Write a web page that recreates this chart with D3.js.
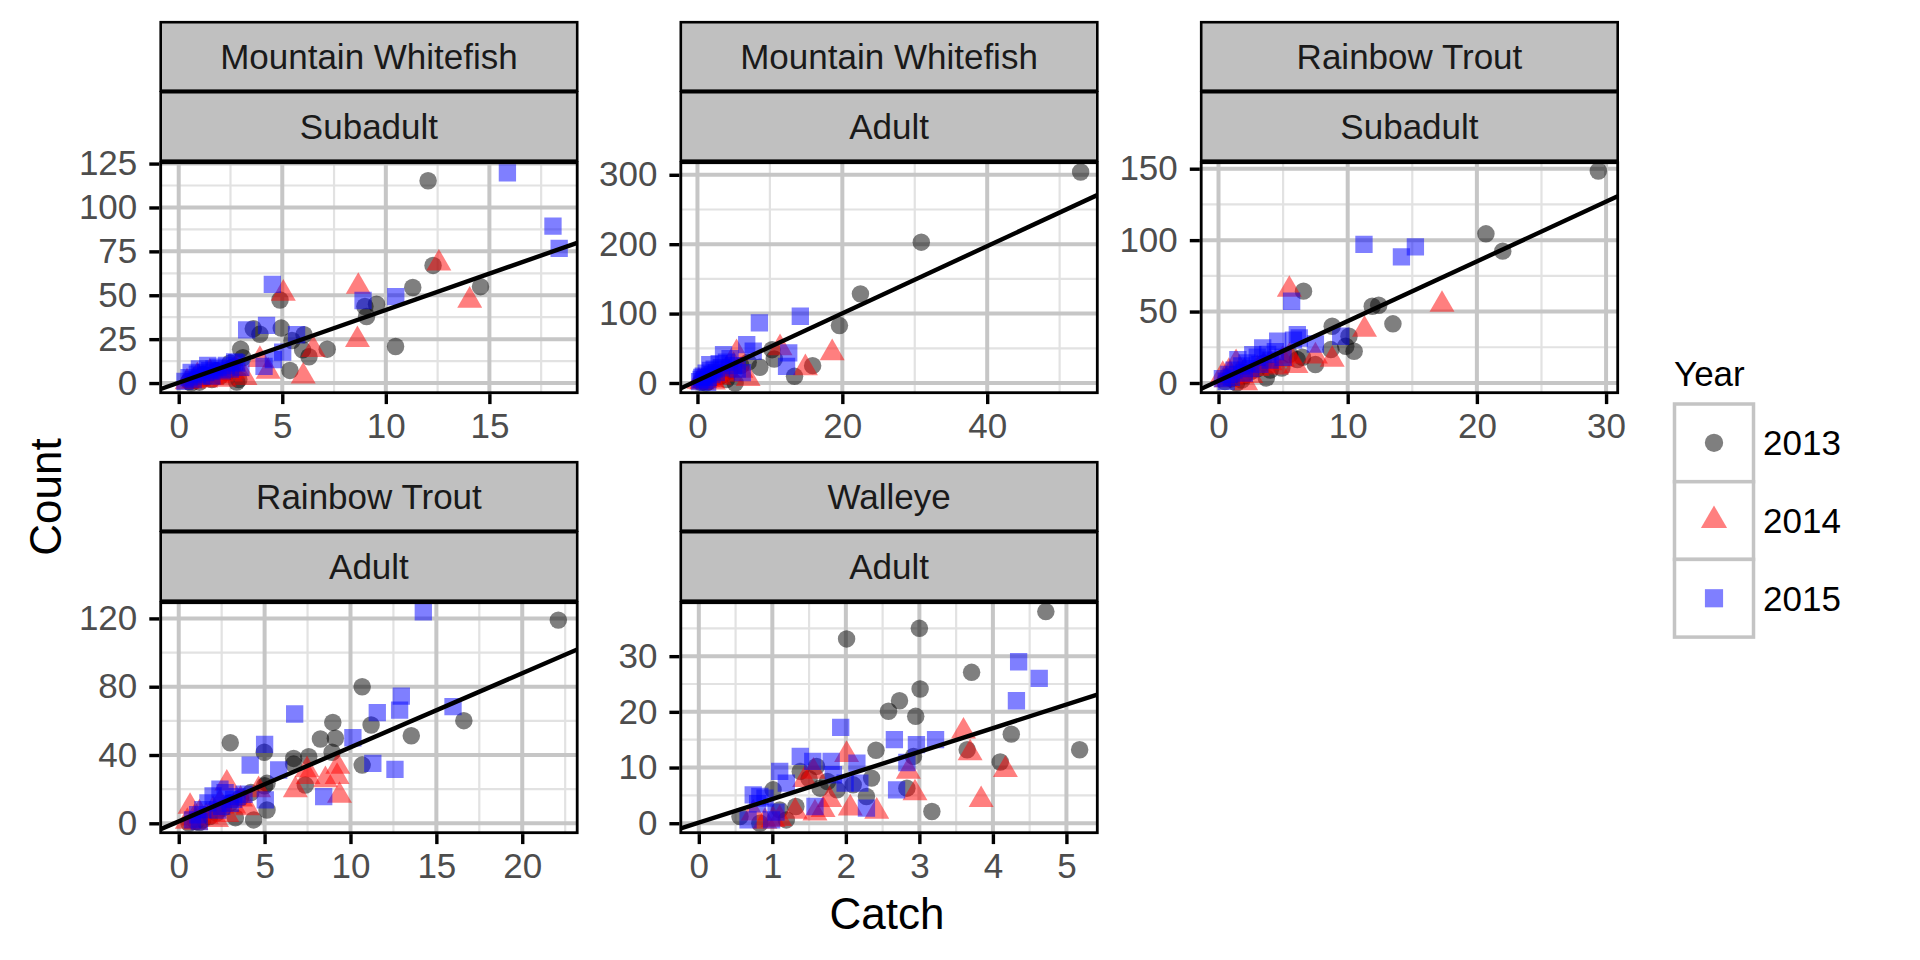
<!DOCTYPE html>
<html><head><meta charset="utf-8">
<script src="https://cdn.jsdelivr.net/npm/d3@7"></script>
<style>body{margin:0;background:#fff}svg{display:block}text{font-family:"Liberation Sans",Arial,Helvetica,sans-serif}</style>
</head><body><svg id="c" width="1920" height="960"></svg>
<script>
// ---------- data: [Catch, Count] ----------
const mwSub2013=[[12.04,115.2],[12.28,67],[11.3,54.4],[14.57,54.9],[9.55,44.9],[9.07,37.9],[8.99,43.6],[10.47,20.8],[4.89,47.3],[4.95,31.3],[3.6,30.9],[3.92,27.8],[6.05,27.5],[5.47,24.2],[5.98,18.9],[6.29,15],[7.17,19.3],[2.99,19.3],[3.1,14.4],[5.37,7.2],[2.48,11.4],[2.8,0.6],[0.5,1],[0.8,2],[1.0,0.5],[1.3,3],[1.6,2],[2.0,4],[2.3,6],[2.6,9],[1.8,7],[0.6,0],[1.2,5],[2.9,2]];
const mwSub2014=[[12.56,68.2],[8.67,54.9],[5.05,51],[14.05,47],[8.63,24.6],[6.5,19],[6.01,3.8],[3.92,13.3],[4.32,6.6],[2.64,6.6],[0.4,0.5],[0.7,1],[1.0,2],[1.3,1.5],[1.6,3],[1.9,4],[2.2,2],[2.5,5],[0.9,4],[1.5,6],[2.8,8],[3.2,3]];
const mwSub2015=[[15.87,119.7],[18.07,89.4],[18.37,76.7],[4.52,56.2],[8.9,47],[10.48,49.2],[3.28,30.3],[4.24,32.8],[5.69,27.5],[5.02,17.6],[4.57,13.3],[4.12,9.5],[2.8,11.4],[0.3,1],[0.5,3],[0.7,2],[0.9,5],[1.1,4],[1.3,6],[1.5,7],[1.7,8],[1.9,9],[2.1,7],[2.3,10],[2.5,8],[0.6,6],[1.0,8],[1.4,10],[2.7,12],[3.0,9],[1.6,4]];

const mwAd2013=[[52.9,304],[30.9,202.9],[22.5,128.4],[19.6,82.7],[15.9,25],[13.4,9.6],[10.6,34.6],[10.3,48],[8.6,22.6],[5.2,0],[3.1,9.6],[0.5,1],[1,3],[1.5,2],[2,6],[2.5,8],[3.5,12],[4.5,18],[6,25],[7,30],[1.2,0],[4,5]];
const mwAd2014=[[18.6,43.3],[14.9,21.6],[11.4,50.5],[5.4,43.3],[0.2,2],[0.6,1],[1.0,3],[1.5,5],[2,4],[2.5,10],[3,8],[3.5,15],[4,20],[4.5,12],[5,25],[6,18],[7,6],[2.2,1]];
const mwAd2015=[[8.55,86.5],[14.2,96.2],[12.6,43.3],[12.3,24],[6.8,55.3],[3.6,40.9],[1.7,26.4],[7.7,45.7],[0.3,2],[0.5,5],[0.8,10],[1.0,4],[1.2,14],[1.5,8],[1.8,18],[2.0,12],[2.3,20],[2.6,15],[3.0,28],[3.3,22],[4.0,30],[4.5,35],[5.0,25],[5.5,20],[6.2,15],[0.6,8],[1.4,1]];

const rtSub2013=[[29.4,148.4],[20.7,104.4],[22,92.3],[6.58,64.3],[11.9,53.7],[12.4,54.4],[13.5,41.4],[8.8,39.7],[10.1,32.7],[10.5,22.2],[9.85,25.7],[8.7,23.4],[7.5,12.9],[4.9,10.5],[6.1,16.4],[3.7,3.5],[1.4,0],[0.5,1],[1,3],[2,5],[2.5,8],[3,10],[3.5,14],[4,9],[5.5,20],[6.5,18],[1.8,2]];
const rtSub2014=[[5.48,65.4],[17.3,54.9],[11.3,37.4],[8.8,16.4],[7.5,18.7],[5.5,18.7],[4.96,16.4],[1.36,14],[2.1,0],[0.33,5.8],[0.6,2],[1,4],[1.5,6],[2,8],[2.5,5],[3,10],[3.5,12],[4,14],[4.5,11],[6,12],[0.8,8]];
const rtSub2015=[[11.26,97],[14.16,88.3],[15.24,95.3],[5.66,57.2],[6.1,33.9],[6.25,31.5],[7.5,27.3],[9.46,32.7],[4.58,29.2],[3.42,24.5],[2.65,19.9],[1.5,16.4],[0.6,1.2],[0.3,3],[0.8,6],[1.2,9],[1.8,12],[2.2,14],[2.5,10],[3,18],[3.2,13],[3.8,20],[4,16],[4.4,22],[5,18],[2,7],[1,4],[5.8,30]];

const rtAd2013=[[10.68,80],[8.97,59.1],[9.12,49.8],[8.25,49.4],[8.93,41.6],[6.69,38],[7.57,39],[6.69,34.7],[11.2,57.6],[13.54,51.3],[10.68,34.1],[16.6,60.1],[3.0,47.2],[4.98,41.6],[7.37,22.4],[5.14,23.4],[5.14,7.8],[4.36,2],[3.3,3.3],[22.1,119],[0.6,0],[1,1],[1.4,2],[1.8,4],[2.2,6],[2.6,9],[3.0,12],[3.6,15],[4.2,18],[5.0,22],[1.2,0.5]];
const rtAd2014=[[7.47,31.2],[7.53,27.3],[9.26,33.2],[9.22,27.3],[8.54,25.4],[9.36,16.2],[6.79,19.5],[4.65,19.5],[2.8,23.4],[0.66,9.8],[0.5,1],[0.9,3],[1.2,6],[1.6,4],[2.0,8],[2.4,12],[2.8,5],[3.2,10],[3.6,14],[4.0,9],[1.0,0.5],[2.2,2]];
const rtAd2015=[[14.24,123.9],[6.75,64],[12.96,74.5],[12.86,66.3],[11.56,64.8],[15.97,68.3],[10.14,50.1],[11.3,35.1],[12.59,31.6],[5.0,46.2],[5.82,31.2],[4.16,34.1],[2.28,7.8],[8.44,15.6],[5.04,13.7],[3.0,11.7],[3.4,15.6],[0.8,2],[1.1,5],[1.4,8],[1.7,12],[2.0,16],[2.4,20],[2.7,18],[3.2,14],[3.8,17],[1.2,1],[2.5,10]];

const wal2013=[[4.72,38],[3.0,35],[2.01,33.1],[3.71,27.1],[3.01,24.1],[2.73,22],[2.58,20.1],[2.95,19.2],[5.18,13.2],[3.65,13.2],[4.25,16],[4.1,11],[3.17,2.1],[2.41,13.1],[2.35,8.1],[2.28,4.8],[1.6,10.2],[1.38,9.3],[1.65,6.3],[1.88,6],[2.1,6.9],[1.32,3],[1.1,2.4],[1.01,6],[0.56,1.2],[0.83,0],[1.19,0.6],[2.92,12],[2.83,6.3],[1.5,8],[1.75,7.5]];
const wal2014=[[3.6,16.5],[3.69,12.6],[4.17,9.6],[3.84,4.2],[2.01,12.3],[2.85,9.3],[2.94,5.4],[2.42,2.1],[2.06,2.7],[1.78,4.2],[1.69,2.4],[1.58,1.8],[1.31,2.1],[1.56,9.3],[1.44,7.8],[1.01,0.6],[0.74,1.8],[0.9,0.3],[1.1,0.8]];
const wal2015=[[4.35,29],[4.63,26],[4.32,22],[1.93,17.2],[2.66,15],[3.22,15],[2.96,14.1],[2.83,10.9],[1.38,12],[1.55,11.1],[1.8,11.1],[2.15,10.8],[2.19,7.2],[1.99,7.2],[1.83,8.7],[2.69,6],[2.28,2.7],[1.58,3],[1.1,9.3],[1.19,7.2],[0.74,5.1],[0.83,4.8],[0.67,0.6],[0.99,0.6],[0.8,3.5],[0.9,4.5],[1.05,2]];

const panelSpecies=["Mountain Whitefish","Mountain Whitefish","Rainbow Trout","Rainbow Trout","Walleye"];
const panelStage=["Subadult","Adult","Subadult","Adult","Adult"];
const fitIntercept=[0.2,3.6,1.5,1.1,0.1];
const fitSlope=[4.14,4.84,4.18,4.34,4.24];
const xTicks=[[0,5,10,15],[0,20,40],[0,10,20,30],[0,5,10,15,20],[0,1,2,3,4,5]];
const yTicks=[[0,25,50,75,100,125],[0,100,200,300],[0,50,100,150],[0,40,80,120],[0,10,20,30]];
const years=["2013","2014","2015"];

// ---------- layout ----------
const xDomains=[[-0.87,19.24],[-2.3,55.2],[-1.34,30.9],[-1.05,23.2],[-0.245,5.42]];
const yDomains=[[-5.5,125.5],[-14,317.4],[-6.8,154.2],[-5.5,129.2],[-1.7,39.6]];
const series=[[mwSub2013,mwSub2014,mwSub2015],[mwAd2013,mwAd2014,mwAd2015],[rtSub2013,rtSub2014,rtSub2015],[rtAd2013,rtAd2014,rtAd2015],[wal2013,wal2014,wal2015]];
const colLeft=[160.7,680.8,1201.2], panelW=416.5;
const rowTop=[162.7,602.7], panelH=230;
const panelPos=[[0,0],[0,1],[0,2],[1,0],[1,1]];
const yearColor=["#000000","#FF0000","#0000FF"];
const yearShape=[d3.symbolCircle,d3.symbolTriangle,d3.symbolSquare];
const symSize=[240,270,300];

const svg=d3.select("#c");
svg.append("rect").attr("width",1920).attr("height",960).attr("fill","#fff");

function minorBreaks(t,dom){
  const step=t[1]-t[0], out=[];
  for(let v=t[0]-step/2; v<=t[t.length-1]+step; v+=step){ if(v>=dom[0]&&v<=dom[1]) out.push(v); }
  return out;
}

panelPos.forEach(([r,c],i)=>{
  const x0=colLeft[c], y0=rowTop[r];
  const xs=d3.scaleLinear().domain(xDomains[i]).range([x0,x0+panelW]);
  const ys=d3.scaleLinear().domain(yDomains[i]).range([y0+panelH,y0]);

  // strips
  const strips=[[panelSpecies[i],y0-140.5],[panelStage[i],y0-70.5]];
  strips.forEach(([t,sy])=>{
    svg.append("rect").attr("x",x0).attr("y",sy).attr("width",panelW).attr("height",68.5)
      .attr("fill","#C0C0C0").attr("stroke","#000").attr("stroke-width",2.6);
    svg.append("text").attr("x",x0+panelW/2).attr("y",sy+34.5).attr("dy","0.36em")
      .attr("text-anchor","middle").attr("font-size",35).attr("fill","#1A1A1A").text(t);
  });

  const clipId="clip"+i;
  svg.append("clipPath").attr("id",clipId).append("rect")
    .attr("x",x0).attr("y",y0).attr("width",panelW).attr("height",panelH);
  const g=svg.append("g").attr("clip-path",`url(#${clipId})`);
  g.append("rect").attr("x",x0).attr("y",y0).attr("width",panelW).attr("height",panelH).attr("fill","#fff");

  // minor grid
  minorBreaks(yTicks[i],yDomains[i]).forEach(v=>g.append("line").attr("x1",x0).attr("x2",x0+panelW)
    .attr("y1",ys(v)).attr("y2",ys(v)).attr("stroke","#E2E2E2").attr("stroke-width",2.2));
  minorBreaks(xTicks[i],xDomains[i]).forEach(v=>g.append("line").attr("y1",y0).attr("y2",y0+panelH)
    .attr("x1",xs(v)).attr("x2",xs(v)).attr("stroke","#E2E2E2").attr("stroke-width",2.2));
  // major grid
  yTicks[i].forEach(v=>g.append("line").attr("x1",x0).attr("x2",x0+panelW)
    .attr("y1",ys(v)).attr("y2",ys(v)).attr("stroke","#C6C6C6").attr("stroke-width",4));
  xTicks[i].forEach(v=>g.append("line").attr("y1",y0).attr("y2",y0+panelH)
    .attr("x1",xs(v)).attr("x2",xs(v)).attr("stroke","#C6C6C6").attr("stroke-width",4));

  // points
  series[i].forEach((pts,k)=>{
    const sym=d3.symbol().type(yearShape[k]).size(symSize[k]);
    g.selectAll(null).data(pts).enter().append("path")
      .attr("d",sym).attr("transform",d=>`translate(${xs(d[0])},${ys(d[1])})`)
      .attr("fill",yearColor[k]).attr("fill-opacity",0.5);
  });

  // fit line
  const xd=xDomains[i];
  g.append("line").attr("x1",xs(xd[0])).attr("y1",ys(fitIntercept[i]+fitSlope[i]*xd[0]))
    .attr("x2",xs(xd[1])).attr("y2",ys(fitIntercept[i]+fitSlope[i]*xd[1]))
    .attr("stroke","#000").attr("stroke-width",4.4);

  // border
  svg.append("rect").attr("x",x0).attr("y",y0).attr("width",panelW).attr("height",panelH)
    .attr("fill","none").attr("stroke","#000").attr("stroke-width",2.8);

  // axes
  const ya=svg.append("g").attr("transform",`translate(${x0-1.4},0)`)
    .call(d3.axisLeft(ys).tickValues(yTicks[i]).tickSize(10).tickPadding(12).tickFormat(d3.format("d")));
  const xa=svg.append("g").attr("transform",`translate(0,${y0+panelH+1.4})`)
    .call(d3.axisBottom(xs).tickValues(xTicks[i]).tickSize(10).tickPadding(9).tickFormat(d3.format("d")));
  [ya,xa].forEach(a=>{
    a.select(".domain").remove();
    a.selectAll(".tick line").attr("stroke","#000").attr("stroke-width",3.4);
    a.selectAll(".tick text").attr("font-size",35).attr("fill","#4D4D4D")
      .attr("font-family",'"Liberation Sans",Arial,sans-serif');
  });
});

// axis titles
svg.append("text").attr("x",887).attr("y",929).attr("text-anchor","middle")
  .attr("font-size",44).attr("fill","#000").text("Catch");
svg.append("text").attr("transform","translate(61,497) rotate(-90)").attr("text-anchor","middle")
  .attr("font-size",44).attr("fill","#000").text("Count");

// legend
svg.append("text").attr("x",1674).attr("y",386).attr("font-size",35).attr("fill","#000").text("Year");
const keyH=77.7, keyTop=404, keyX=1674.5, keyW=79;
years.forEach((y,k)=>{
  const cy=keyTop+k*keyH;
  svg.append("rect").attr("x",keyX).attr("y",cy).attr("width",keyW).attr("height",keyH)
    .attr("fill","#fff").attr("stroke","#C4C4C4").attr("stroke-width",3.5);
  svg.append("path").attr("d",d3.symbol().type(yearShape[k]).size(symSize[k]*1.1)())
    .attr("transform",`translate(${keyX+keyW/2},${cy+keyH/2})`)
    .attr("fill",yearColor[k]).attr("fill-opacity",0.5);
  svg.append("text").attr("x",1763).attr("y",cy+keyH/2).attr("dy","0.36em")
    .attr("font-size",35).attr("fill","#000").text(y);
});
</script>
</body></html>
